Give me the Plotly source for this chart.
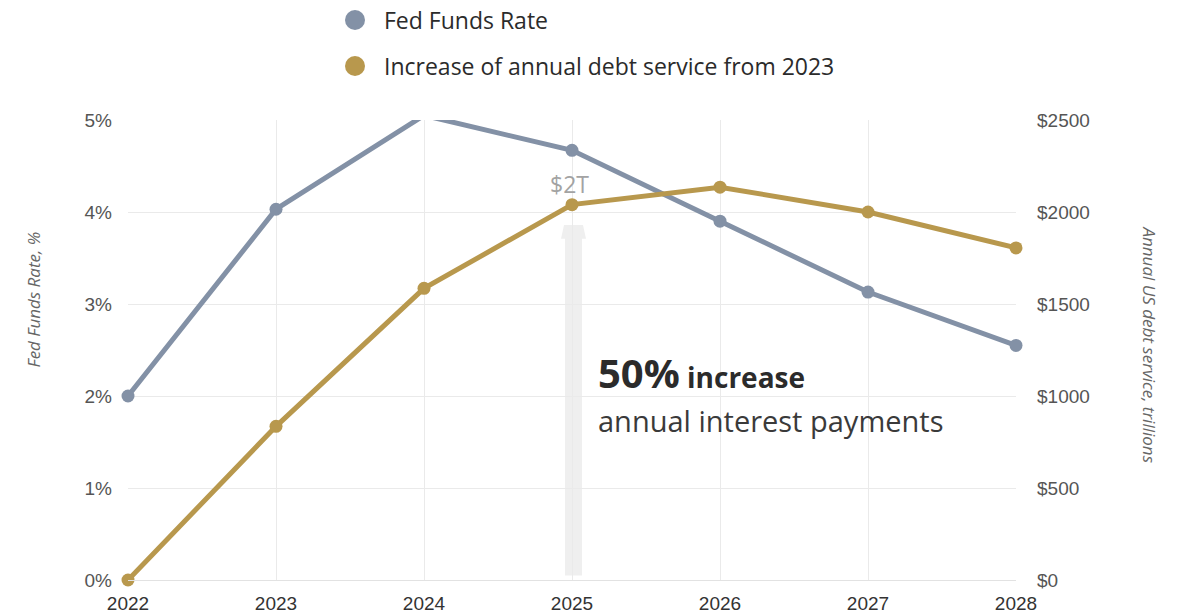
import plotly.graph_objects as go

years = [2022, 2023, 2024, 2025, 2026, 2027, 2028]
fed_funds = [2.0, 4.03, 5.05, 4.67, 3.9, 3.13, 2.55]
debt_increase = [0, 835, 1585, 2040, 2135, 2000, 1805]
left_ticks = [0, 1, 2, 3, 4, 5]
left_labels = ["0%", "1%", "2%", "3%", "4%", "5%"]
right_ticks = [0, 500, 1000, 1500, 2000, 2500]
right_labels = ["$0", "$500", "$1000", "$1500", "$2000", "$2500"]

GRAY = "#8391A6"
GOLD = "#B8984D"
TICKFONT = dict(family="Liberation Sans, Arial", size=19, color="#555555")

# plot area in pixels
L, R, T, B = 128, 1016, 120, 580
W, H = R - L, B - T


def px(x):
    return (x - L) / W


def py(y):
    return (B - y) / H


fig = go.Figure()
fig.add_trace(go.Scatter(x=years, y=fed_funds, mode="lines+markers", yaxis="y",
                         line=dict(color=GRAY, width=5), marker=dict(size=13, color=GRAY),
                         cliponaxis=False, showlegend=False))
fig.add_trace(go.Scatter(x=years, y=debt_increase, mode="lines+markers", yaxis="y2",
                         line=dict(color=GOLD, width=5), marker=dict(size=13, color=GOLD),
                         cliponaxis=False, showlegend=False))

fig.update_layout(
    width=1177, height=616,
    margin=dict(l=L, r=1177 - R, t=T, b=616 - B, autoexpand=False),
    paper_bgcolor="white", plot_bgcolor="white",
    xaxis=dict(range=[2022, 2028], tickvals=years, ticktext=[str(y) for y in years],
               showgrid=True, gridcolor="#EAEAEA", gridwidth=1, zeroline=False,
               showline=True, linecolor="#E2E2E2", ticks="", ticklabelstandoff=6,
               automargin=False,
               tickfont=dict(family="Liberation Sans, Arial", size=19, color="#333333")),
    yaxis=dict(range=[0, 5], tickvals=left_ticks, ticktext=left_labels, automargin=False,
               showgrid=True, gridcolor="#EAEAEA", zeroline=False, ticks="",
               ticklabelstandoff=15, tickfont=TICKFONT),
    yaxis2=dict(range=[0, 2500], tickvals=right_ticks, ticktext=right_labels, automargin=False,
                overlaying="y", side="right", showgrid=False, zeroline=False,
                ticks="", ticklabelstandoff=20, tickfont=TICKFONT),
)

# big light arrow at 2025
fig.add_shape(type="rect", xref="x", yref="y2", xsizemode="pixel", xanchor=2025,
              x0=-7, x1=10, y0=25, y1=1860, fillcolor="#EFEFEF", line=dict(width=0), layer="below")
fig.add_shape(type="path", xref="x", yref="y2", xsizemode="pixel", xanchor=2025,
              path="M -11,1855 L 14,1855 L 11,1929 L -8,1929 Z",
              fillcolor="#EFEFEF", line=dict(width=0), layer="below")

fig.add_annotation(x=2025, y=2040, xref="x", yref="y2", text="$2T", showarrow=False,
                   yshift=21, xshift=-3, font=dict(family="Open Sans", size=23, color="#A3A3A3"))
fig.add_annotation(x=2025, y=1000, xref="x", yref="y2", xanchor="left", yanchor="bottom",
                   xshift=24, yshift=-6,
                   text="<b><span style='font-size:40px'>50%</span> increase</b>",
                   showarrow=False, font=dict(family="Open Sans", size=28, color="#2B2B2B"))
fig.add_annotation(x=2025, y=1000, xref="x", yref="y2", xanchor="left", yanchor="top",
                   xshift=24, yshift=-3, text="annual interest payments",
                   showarrow=False, font=dict(family="Open Sans", size=29, color="#3A3A3A"))

# axis titles
fig.add_annotation(x=px(19), y=py(300), xref="paper", yref="paper", text="<i>Fed Funds Rate, %</i>",
                   showarrow=False, textangle=-90, font=dict(family="Open Sans", size=17, color="#666666"))
fig.add_annotation(x=px(1163), y=py(345), xref="paper", yref="paper",
                   text="<i>Annual US debt service, trillions</i>",
                   showarrow=False, textangle=90, font=dict(family="Open Sans", size=17, color="#666666"))

# legend
for yy, col, label in [(20, GRAY, "Fed Funds Rate"), (66, GOLD, "Increase of annual debt service from 2023")]:
    fig.add_shape(type="circle", xref="paper", yref="paper", xsizemode="pixel", ysizemode="pixel",
                  xanchor=px(355), yanchor=py(yy), x0=-10, x1=10, y0=-10, y1=10,
                  fillcolor=col, line=dict(width=0))
    fig.add_annotation(x=px(382), y=py(yy), xref="paper", yref="paper", xanchor="left", yanchor="middle",
                       text=label, showarrow=False, font=dict(family="Open Sans", size=23, color="#2B2B2B"))

fig.write_html("out.html")
